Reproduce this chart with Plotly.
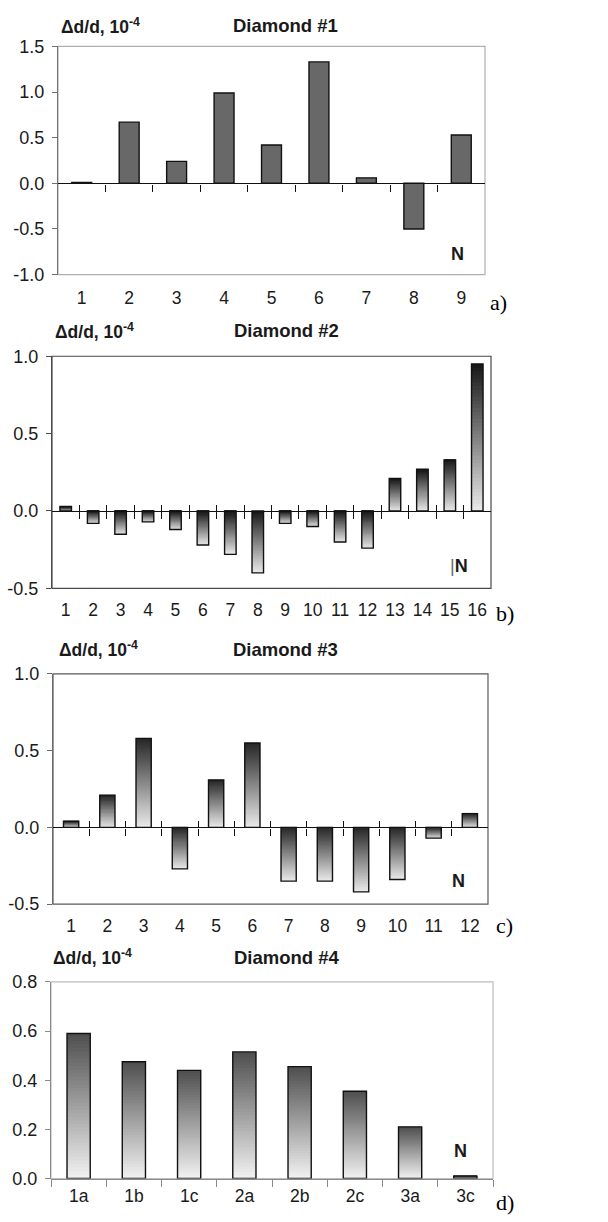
import plotly.graph_objects as go

W, H = 608, 1222

# ---------------- data ----------------
cats_a = ["1", "2", "3", "4", "5", "6", "7", "8", "9"]
vals_a = [0.01, 0.67, 0.24, 0.99, 0.42, 1.33, 0.06, -0.50, 0.53]

cats_b = [str(i) for i in range(1, 17)]
vals_b = [0.03, -0.08, -0.15, -0.07, -0.12, -0.22, -0.28, -0.40,
          -0.08, -0.10, -0.20, -0.24, 0.21, 0.27, 0.33, 0.95]

cats_c = [str(i) for i in range(1, 13)]
vals_c = [0.04, 0.21, 0.58, -0.27, 0.31, 0.55, -0.35, -0.35, -0.42, -0.34, -0.07, 0.09]

cats_d = ["1a", "1b", "1c", "2a", "2b", "2c", "3a", "3c"]
vals_d = [0.59, 0.475, 0.44, 0.515, 0.455, 0.355, 0.21, 0.01]

yticks_a = [-1.0, -0.5, 0.0, 0.5, 1.0, 1.5]
ytext_a = ["-1.0", "-0.5", "0.0", "0.5", "1.0", "1.5"]
yticks_bc = [-0.5, 0.0, 0.5, 1.0]
ytext_bc = ["-0.5", "0.0", "0.5", "1.0"]
yticks_d = [0.0, 0.2, 0.4, 0.6, 0.8]
ytext_d = ["0.0", "0.2", "0.4", "0.6", "0.8"]

titles = ["Diamond #1", "Diamond #2", "Diamond #3", "Diamond #4"]
panel_tags = ["a)", "b)", "c)", "d)"]

# ---------------- layout / style ----------------
SANS = "Liberation Sans, Arial, sans-serif"
SERIF = "Liberation Serif, Times New Roman, serif"
TXT = "#1a1a1a"

panels = [
    dict(cats=cats_a, vals=vals_a, yr=[-1.0, 1.5], yt=yticks_a, ytx=ytext_a,
         box=(58, 485, 37, 269), grad=False, frame="#b0b0b0", left="#707070",
         cross=False, zcol="#111111", ends=False,
         title_y=16, dd_x=59, tit_x=285, n_pos=(457, 248), n_txt="<b>N</b>",
         tag_pos=(498, 297), lab_off=11),
    dict(cats=cats_b, vals=vals_b, yr=[-0.5, 1.0], yt=yticks_bc, ytx=ytext_bc,
         box=(52, 491, 352, 588), grad=True, dark=(25, 25, 25), light=(232, 232, 232),
         frame="#4a4a4a", left="#4a4a4a", cross=True, zcol="#111111", ends=False,
         title_y=326, dd_x=53, tit_x=286, n_pos=(459, 565),
         n_txt="<span style='color:#666'>|</span><b>N</b>",
         tag_pos=(505, 614), lab_off=9),
    dict(cats=cats_c, vals=vals_c, yr=[-0.5, 1.0], yt=yticks_bc, ytx=ytext_bc,
         box=(53, 488, 675, 909), grad=True, dark=(40, 40, 40), light=(232, 232, 232),
         frame="#5a5a5a", left="#6a6a6a", cross=True, zcol="#111111", ends=False,
         title_y=650, dd_x=57, tit_x=285, n_pos=(458, 886), n_txt="<b>N</b>",
         tag_pos=(504, 931), lab_off=9),
    dict(cats=cats_d, vals=vals_d, yr=[0.0, 0.8], yt=yticks_d, ytx=ytext_d,
         box=(51, 493, 988, 1188), grad=True, dark=(80, 80, 80), light=(240, 240, 240),
         frame="#bdbdbd", left="#8a8a8a", cross=False, zcol="#8a8a8a", ends=True,
         title_y=963, dd_x=51, tit_x=287, n_pos=(460, 1160), n_txt="<b>N</b>",
         tag_pos=(505, 1212), lab_off=5),
]

NSEG = 40
BARW = 0.42


def px(x):
    return x / W


def py(y):
    return 1 - y / H


fig = go.Figure()
layout = dict(width=W, height=H, margin=dict(l=0, r=0, t=0, b=0),
              paper_bgcolor="white", plot_bgcolor="white",
              barmode="overlay", showlegend=False, font=dict(family=SANS, color=TXT))
shapes = []
annotations = []

for i, p in enumerate(panels, start=1):
    sfx = "" if i == 1 else str(i)
    xid, yid = "x" + sfx, "y" + sfx
    n = len(p["cats"])
    xs = list(range(1, n + 1))
    l, r, t, b = p["box"]
    xdom = [px(l), px(r)]
    ydom = [py(b), py(t)]

    if p["grad"]:
        segx, segy, segb, segc = [], [], [], []
        dr, dg, db = p["dark"]
        lr, lg, lb = p["light"]
        for x, v in zip(xs, p["vals"]):
            lo = min(0.0, v)
            h = abs(v) / NSEG
            for k in range(NSEG):
                f = k / (NSEG - 1)
                col = "rgb(%d,%d,%d)" % (round(lr + (dr - lr) * f),
                                         round(lg + (dg - lg) * f),
                                         round(lb + (db - lb) * f))
                hh = h if k == NSEG - 1 else min(1.8 * h, abs(v) - k * h)
                segx.append(x)
                segy.append(hh)
                segb.append(lo + k * h)
                segc.append(col)
        fig.add_trace(go.Bar(x=segx, y=segy, base=segb, width=BARW,
                             marker=dict(color=segc, line=dict(width=0)),
                             xaxis=xid, yaxis=yid, hoverinfo="skip"))
        fill = "rgba(0,0,0,0)"
    else:
        fill = "#686868"
    fig.add_trace(go.Bar(x=xs, y=p["vals"], width=BARW,
                         marker=dict(color=fill, line=dict(color="#111111", width=1.4)),
                         xaxis=xid, yaxis=yid))

    # main axes
    layout["xaxis" + sfx] = dict(domain=xdom, range=[0.5, n + 0.5], anchor=yid,
                                 tickvals=xs, ticktext=p["cats"], ticks="",
                                 showline=False, showgrid=False, zeroline=False,
                                 ticklabelstandoff=p["lab_off"],
                                 tickfont=dict(size=17.5, family=SANS, color=TXT),
                                 fixedrange=True)
    layout["yaxis" + sfx] = dict(domain=ydom, range=p["yr"], anchor=xid,
                                 tickvals=p["yt"], ticktext=p["ytx"],
                                 ticks="outside", ticklen=5, tickcolor=p["left"], tickwidth=1.2,
                                 showline=True, linecolor=p["left"], linewidth=1.3,
                                 showgrid=False, zeroline=False, ticklabelstandoff=4,
                                 tickfont=dict(size=18, family=SANS, color=TXT),
                                 fixedrange=True)

    # frame
    shapes.append(dict(type="rect", xref=xid + " domain", yref=yid + " domain",
                       x0=0, x1=1, y0=0, y1=1, layer="below",
                       line=dict(color=p["frame"], width=1.2)))

    # zero line with boundary ticks (overlay axes, each carrying an invisible trace)
    y0, y1 = p["yr"]
    zpos = ydom[0] + (0 - y0) / (y1 - y0) * (ydom[1] - ydom[0])
    bounds = [k + 0.5 for k in range(0, n + 1)] if p["ends"] else [k + 0.5 for k in range(1, n)]
    ov_ids = [str(i + 4)] + ([str(i + 8)] if p["cross"] else [])
    for j, oid in enumerate(ov_ids):
        fig.add_trace(go.Scatter(x=xs, y=p["vals"], mode="markers",
                                 marker=dict(opacity=0, size=1),
                                 xaxis="x" + oid, yaxis=yid, hoverinfo="skip"))
        layout["xaxis" + oid] = dict(overlaying=xid, anchor="free", position=zpos,
                                     range=[0.5, n + 0.5], tickvals=bounds,
                                     ticks="outside" if j == 0 else "inside",
                                     ticklen=7 if j == 0 else 6, tickwidth=1.3,
                                     tickcolor=p["zcol"], showticklabels=False,
                                     showline=(j == 0), linecolor=p["zcol"], linewidth=1.4,
                                     showgrid=False, zeroline=False, fixedrange=True)

    # texts
    annotations.append(dict(text="<b>\u0394d/d, 10<sup>-4</sup></b>", x=px(p["dd_x"]), y=py(p["title_y"]),
                            xref="paper", yref="paper", xanchor="left", yanchor="middle",
                            showarrow=False, font=dict(size=17.5, family=SANS, color=TXT)))
    annotations.append(dict(text="<b>" + titles[i - 1] + "</b>", x=px(p["tit_x"]), y=py(p["title_y"]),
                            xref="paper", yref="paper", xanchor="center", yanchor="middle",
                            showarrow=False, font=dict(size=18.5, family=SANS, color=TXT)))
    annotations.append(dict(text=p["n_txt"], x=px(p["n_pos"][0]), y=py(p["n_pos"][1]),
                            xref="paper", yref="paper", xanchor="center", yanchor="middle",
                            showarrow=False, font=dict(size=18, family=SANS, color=TXT)))
    annotations.append(dict(text=panel_tags[i - 1], x=px(p["tag_pos"][0]), y=py(p["tag_pos"][1]),
                            xref="paper", yref="paper", xanchor="center", yanchor="middle",
                            showarrow=False, font=dict(size=22, family=SERIF, color="#000")))

layout["shapes"] = shapes
layout["annotations"] = annotations
fig.update_layout(**layout)
fig.write_html("out.html", config={"displayModeBar": False},
               post_script="document.body.style.margin='0';document.body.style.overflow='hidden';")
